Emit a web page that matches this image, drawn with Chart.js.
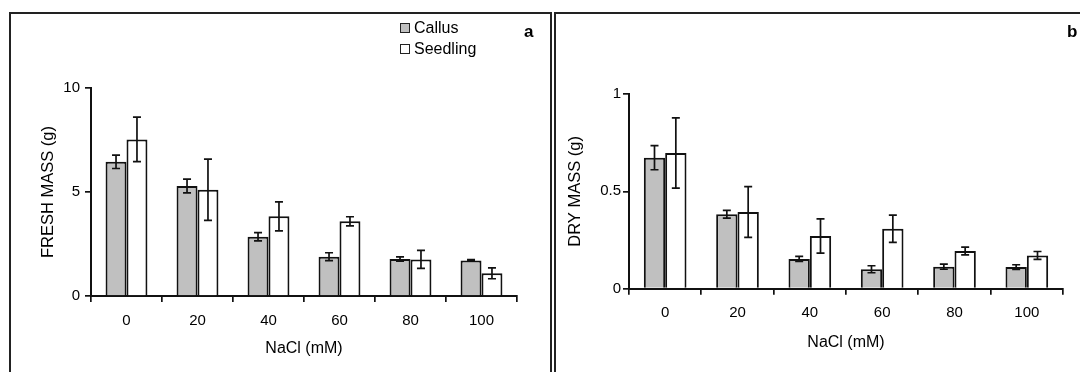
<!DOCTYPE html>
<html>
<head>
<meta charset="utf-8">
<script src="https://cdn.jsdelivr.net/npm/chart.js@4.4.1/dist/chart.umd.min.js"></script>
<style>
  html, body { margin: 0; padding: 0; background: #fff; }
  body { width: 1080px; height: 372px; position: relative; overflow: hidden; font-family: "Liberation Sans", Arial, sans-serif; }
  .frame { position: absolute; border: 2px solid #222; box-sizing: border-box; }
  #frameA { left: 9px; top: 12px; width: 543px; height: 380px; }
  #frameB { left: 554px; top: 12px; width: 540px; height: 380px; }
  canvas { position: absolute; top: 0; }
  #cA { left: 0; }
  #cB { left: 555px; }
  .legend { position: absolute; left: 400px; top: 17px; font-size: 16px; color: #000; line-height: 21px; }
  .legend div { display: flex; align-items: center; }
  .legend span.box { display: inline-block; width: 10px; height: 10px; border: 1px solid #222; margin-right: 4px; box-sizing: border-box; }
  .panel { position: absolute; font-weight: bold; font-size: 17px; color: #000; }
</style>
</head>
<body>
<div class="frame" id="frameA"></div>
<div class="frame" id="frameB"></div>
<canvas id="cA" width="551" height="372" style="width:551px;height:372px"></canvas>
<canvas id="cB" width="525" height="372" style="width:525px;height:372px"></canvas>
<div class="legend">
  <div><span class="box" style="background:#c0c0c0"></span>Callus</div>
  <div><span class="box" style="background:#fff"></span>Seedling</div>
</div>
<div class="panel" style="left:524px; top:22px;">a</div>
<div class="panel" style="left:1067px; top:22px;">b</div>
<script>
// ---- data ----
const categories = ['0', '20', '40', '60', '80', '100'];
const seriesNames = ['Callus', 'Seedling'];

const freshCallus      = [6.45, 5.29, 2.85, 1.89, 1.78, 1.71];
const freshCallusErr   = [0.32, 0.33, 0.20, 0.19, 0.10, 0.04];
const freshSeedling    = [7.53, 5.11, 3.83, 3.59, 1.76, 1.09];
const freshSeedlingErr = [1.07, 1.47, 0.70, 0.22, 0.43, 0.26];

const dryCallus        = [0.673, 0.382, 0.153, 0.100, 0.113, 0.111];
const dryCallusErr     = [0.062, 0.020, 0.013, 0.018, 0.013, 0.012];
const drySeedling      = [0.697, 0.394, 0.271, 0.308, 0.194, 0.171];
const drySeedlingErr   = [0.180, 0.130, 0.088, 0.070, 0.020, 0.020];

const freshTicks = [0, 5, 10];
const dryTicks = [0, 0.5, 1];

const FONT = '"Liberation Sans", Arial, sans-serif';

const errorBars = {
  id: 'errorBars',
  afterDatasetsDraw(chart) {
    const ctx = chart.ctx;
    const y = chart.scales.y;
    ctx.save();
    ctx.strokeStyle = '#111';
    ctx.lineWidth = 1.7;
    chart.data.datasets.forEach((ds, di) => {
      const meta = chart.getDatasetMeta(di);
      meta.data.forEach((bar, i) => {
        const v = ds.data[i], e = ds.errors[i];
        const x = bar.x;
        const yt = y.getPixelForValue(v + e);
        const yb = y.getPixelForValue(v - e);
        const cap = 4;
        ctx.beginPath();
        ctx.moveTo(x, yt); ctx.lineTo(x, yb);
        ctx.moveTo(x - cap, yt); ctx.lineTo(x + cap, yt);
        ctx.moveTo(x - cap, yb); ctx.lineTo(x + cap, yb);
        ctx.stroke();
      });
    });
    ctx.restore();
  }
};

function makeChart(id, callus, callusErr, seedling, seedlingErr, ticksArr, yTitle, cfg) {
  const ymax = ticksArr[ticksArr.length - 1];
  return new Chart(document.getElementById(id), {
    type: 'bar',
    data: {
      labels: categories,
      datasets: [
        { label: seriesNames[0], data: callus, errors: callusErr, backgroundColor: '#c0c0c0', borderColor: '#111', borderWidth: 2 },
        { label: seriesNames[1], data: seedling, errors: seedlingErr, backgroundColor: '#ffffff', borderColor: '#111', borderWidth: 2 }
      ]
    },
    options: {
      responsive: false,
      animation: false,
      devicePixelRatio: 1,
      layout: { padding: cfg.padding },
      datasets: { bar: { categoryPercentage: 0.59, barPercentage: 1.0 } },
      plugins: { legend: { display: false }, tooltip: { enabled: false } },
      scales: {
        x: {
          grid: { drawOnChartArea: false, drawTicks: true, tickLength: 6, color: '#111', lineWidth: 1.7, offset: true },
          border: { display: true, color: '#111', width: 2 },
          ticks: { color: '#000', font: { family: FONT, size: 15 }, padding: cfg.xTickPad, maxRotation: 0 },
          title: { display: true, text: 'NaCl (mM)', color: '#000', font: { family: FONT, size: 16 }, padding: { top: 0, bottom: cfg.xTitlePad } },
          afterFit(s) { s.height = cfg.xHeight; }
        },
        y: {
          min: 0, max: ymax,
          afterBuildTicks(s) { s.ticks = ticksArr.map(v => ({ value: v })); },
          grid: { drawOnChartArea: false, drawTicks: true, tickLength: 6, color: '#111', lineWidth: 1.7 },
          border: { display: true, color: '#111', width: 2 },
          ticks: { color: '#000', font: { family: FONT, size: 15 }, padding: cfg.yTickPad, callback: (v) => String(v) },
          title: { display: true, text: yTitle, color: '#000', font: { family: FONT, size: 16.5 }, padding: { top: cfg.yTitlePad, bottom: 0 } },
          afterFit(s) { s.width = cfg.yWidth; }
        }
      }
    },
    plugins: [errorBars]
  });
}

makeChart('cA', freshCallus, freshCallusErr, freshSeedling, freshSeedlingErr, freshTicks, 'FRESH MASS (g)', {
  padding: { left: 31, right: 34, top: 88, bottom: 0 },
  yWidth: 60, xHeight: 76, xTickPad: 10, xTitlePad: 14, yTickPad: 5, yTitlePad: 8
});
makeChart('cB', dryCallus, dryCallusErr, drySeedling, drySeedlingErr, dryTicks, 'DRY MASS (g)', {
  padding: { left: 0, right: 17, top: 94, bottom: 0 },
  yWidth: 74, xHeight: 83.3, xTickPad: 9, xTitlePad: 20, yTickPad: 2, yTitlePad: 11
});
</script>
</body>
</html>
